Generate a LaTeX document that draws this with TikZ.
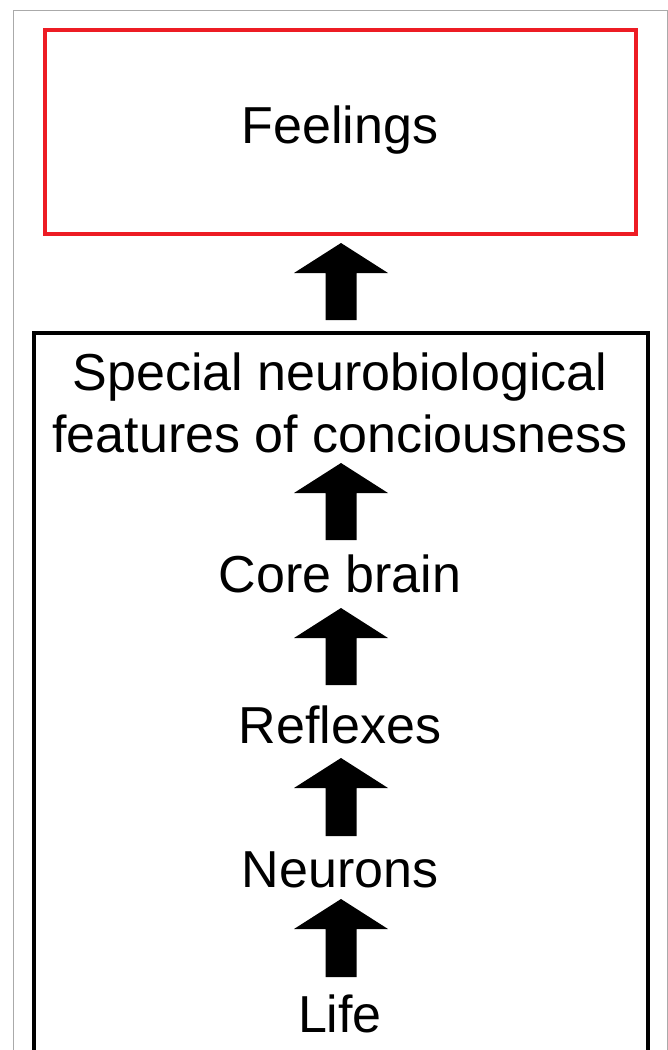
\documentclass[tikz,border=0pt]{standalone}
\usepackage{fontspec}
\setmainfont{Liberation Sans}
\usetikzlibrary{calc}
\definecolor{boxred}{RGB}{237,28,36}
\definecolor{framegray}{RGB}{170,170,170}
\tikzset{
  label/.style={anchor=base, inner sep=0pt, text height=38pt, text depth=11pt,
    font=\fontsize{52}{62}\selectfont, align=center},
  blockarrow/.style={fill=black, draw=none,
    to path={($(\tikztostart)+(-15.5,0)$) -- ($(\tikztotarget)+(-15.5,30)$)
      -- ($(\tikztotarget)+(-47,30)$) -- (\tikztotarget)
      -- ($(\tikztotarget)+(47,30)$) -- ($(\tikztotarget)+(15.5,30)$)
      -- ($(\tikztostart)+(15.5,0)$) -- cycle}}
}
\begin{document}
\begin{tikzpicture}[x=1pt,y=-1pt]
\useasboundingbox (0,0) rectangle (668,1050);
% outer frame
\draw[framegray, line width=1pt] (13.5,1050) -- (13.5,10) -- (667,10) -- (667,1050);
% red box
\node[draw=boxred, line width=4pt, minimum width=591pt, minimum height=204pt, inner sep=0pt]
  (feelbox) at (340.5,132) {};
\node[label] (feelings) at (340,143) {Feelings};
% black box (open at bottom)
\coordinate (bl) at (34,1050);
\coordinate (tl) at (34,333);
\coordinate (tr) at (648,333);
\coordinate (br) at (648,1050);
\draw[black, line width=4pt, line join=miter] (bl) -- (tl) -- (tr) -- (br);
% texts
\node[label] (special) at (340,390) {Special neurobiological};
\node[label] (features) at (340,452) {features of conciousness};
\node[label] (core) at (340,592) {Core brain};
\node[label] (reflexes) at (340,743) {Reflexes};
\node[label] (neurons) at (340,887) {Neurons};
\node[label] (life) at (340,1032) {Life};
% arrows
\coordinate (a1s) at (341,320); \coordinate (a1e) at (341,243);
\coordinate (a2s) at (341,540); \coordinate (a2e) at (341,463);
\coordinate (a3s) at (341,685); \coordinate (a3e) at (341,608);
\coordinate (a4s) at (341,836); \coordinate (a4e) at (341,758);
\coordinate (a5s) at (341,977); \coordinate (a5e) at (341,899);
\path[blockarrow] (a1s) to (a1e);
\path[blockarrow] (a2s) to (a2e);
\path[blockarrow] (a3s) to (a3e);
\path[blockarrow] (a4s) to (a4e);
\path[blockarrow] (a5s) to (a5e);
\end{tikzpicture}
\end{document}
